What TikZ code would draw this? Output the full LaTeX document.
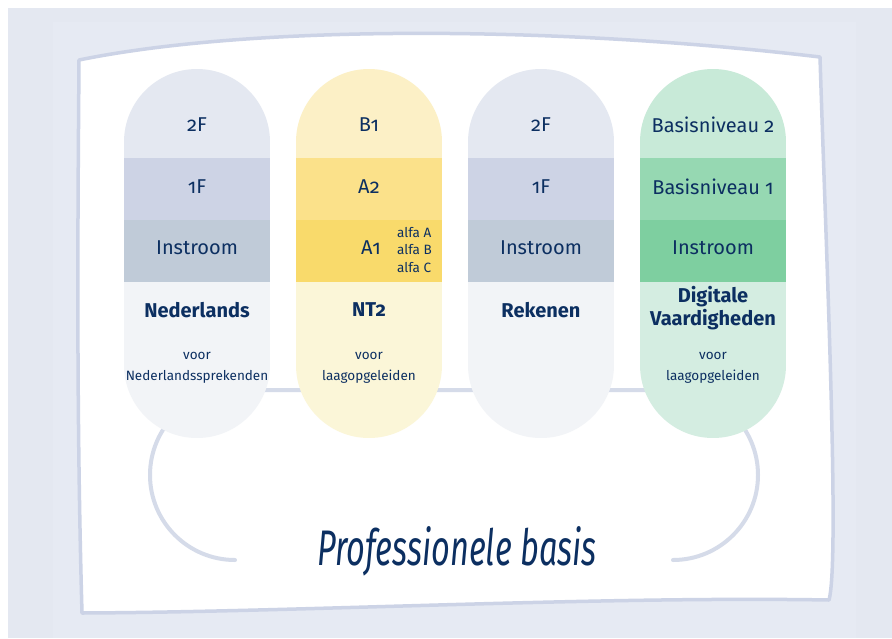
\documentclass[tikz,border=0pt]{standalone}
\usepackage{graphicx}
\usepackage{fontspec}
\setmainfont{Fira Sans}[Numbers=OldStyle]
\usepackage{tikz}
\usetikzlibrary{positioning}

\definecolor{navy}{HTML}{0C2F61}
\definecolor{bgout}{HTML}{E4E8F1}
\definecolor{bgin}{HTML}{E6EAF3}
\definecolor{frameblue}{HTML}{CCD3E6}
\definecolor{loopblue}{HTML}{D5DBE9}
\definecolor{greyA}{HTML}{E4E8F1}
\definecolor{greyB}{HTML}{CDD3E5}
\definecolor{greyC}{HTML}{C0CBD8}
\definecolor{greyD}{HTML}{F2F4F7}
\definecolor{yelA}{HTML}{FCF0C6}
\definecolor{yelB}{HTML}{FBE18A}
\definecolor{yelC}{HTML}{F9DA6B}
\definecolor{yelD}{HTML}{FBF6D8}
\definecolor{grnA}{HTML}{C8EAD8}
\definecolor{grnB}{HTML}{96D8B2}
\definecolor{grnC}{HTML}{7ECFA0}
\definecolor{grnD}{HTML}{D4EDE1}

\tikzset{
  lbl/.style={text=navy, font=\fontsize{20}{24}\selectfont, inner sep=0pt},
  lblbold/.style={text=navy, font=\fontsize{20}{23}\selectfont\bfseries, align=center, inner sep=0pt},
  small/.style={text=navy, font=\fontsize{13.5}{21}\selectfont, align=center, inner sep=0pt},
  alfa/.style={text=navy, font=\fontsize{13.5}{17.5}\selectfont, align=left, inner sep=0pt},
  frameline/.style={draw=frameblue, line width=3.5pt, line join=round, fill=white},
  loopline/.style={draw=loopblue, line width=4pt, line cap=round},
}

\begin{document}
\begin{tikzpicture}[x=1pt,y=-1pt]
          \useasboundingbox (0,0) rectangle (892,638);
          \fill[bgout] (8,8) rectangle (892,638);
          \fill[bgin] (53,22) rectangle (856,638);

          % sheet
          \draw[frameline] (79,60) .. controls (250,25) and (550,25) .. (820,57)
                .. controls (826,250) and (840,560) .. (829,600)
                .. controls (600,596) and (300,612) .. (82,613)
                .. controls (76,400) and (78,200) .. cycle;

          % loop behind the pills
          \draw[loopline] (235,560) arc (90:270:85) -- (673,390) arc (270:450:85);

          % pills
          \foreach \x/\ca/\cb/\cc/\cd in {124/greyA/greyB/greyC/greyD, 296/yelA/yelB/yelC/yelD,
                468/greyA/greyB/greyC/greyD, 640/grnA/grnB/grnC/grnD}{
            \begin{scope}
              \clip[rounded corners=73pt] (\x,69) rectangle ++(146,369);
              \fill[\ca] (\x,69) rectangle ++(146,89.5);
              \fill[\cb] (\x,158) rectangle ++(146,62.5);
              \fill[\cc] (\x,220) rectangle ++(146,62.5);
              \fill[\cd] (\x,282) rectangle ++(146,156);
            \end{scope}
          }

          % Nederlands
          \node[lbl] (ned2) at (197,125) {2F};
          \node[lbl] (ned1) at (197,187) {1F};
          \node[lbl] (ned0) at (197,248) {Instroom};
          \node[lblbold] (nedname) at (197,310) {Nederlands};
          \node[small] (nedvoor) at (197,367.5) {voor\\Nederlandssprekenden};

          % NT2
          \node[lbl] (nt2b) at (369,125) {B1};
          \node[lbl] (nt2a2) at (369,187) {A2};
          \node[lbl] (nt2a1) at (371,248) {A1};
          \node[alfa, anchor=west] (nt2alfa) at (397,250) {alfa A\\alfa B\\alfa C};
          \node[lblbold] (nt2name) at (369,310) {NT2};
          \node[small] (nt2voor) at (369,367.5) {voor\\laagopgeleiden};

          % Rekenen
          \node[lbl] (rek2) at (541,125) {2F};
          \node[lbl] (rek1) at (541,187) {1F};
          \node[lbl] (rek0) at (541,248) {Instroom};
          \node[lblbold] (rekname) at (541,310) {Rekenen};

          % Digitale vaardigheden
          \node[lbl] (dig2) at (713,125) {Basisniveau 2};
          \node[lbl] (dig1) at (713,187) {Basisniveau 1};
          \node[lbl] (dig0) at (713,248) {Instroom};
          \node[lblbold] (digname) at (713,308.5) {Digitale\\Vaardigheden};
          \node[small] (digvoor) at (713,367.5) {voor\\laagopgeleiden};

          \node[text=navy, anchor=base, font=\fontsize{50}{54}\selectfont\itshape] (prof) at (457,565)
                {\scalebox{0.65}[1]{Professionele basis}};
\end{tikzpicture}
\end{document}
